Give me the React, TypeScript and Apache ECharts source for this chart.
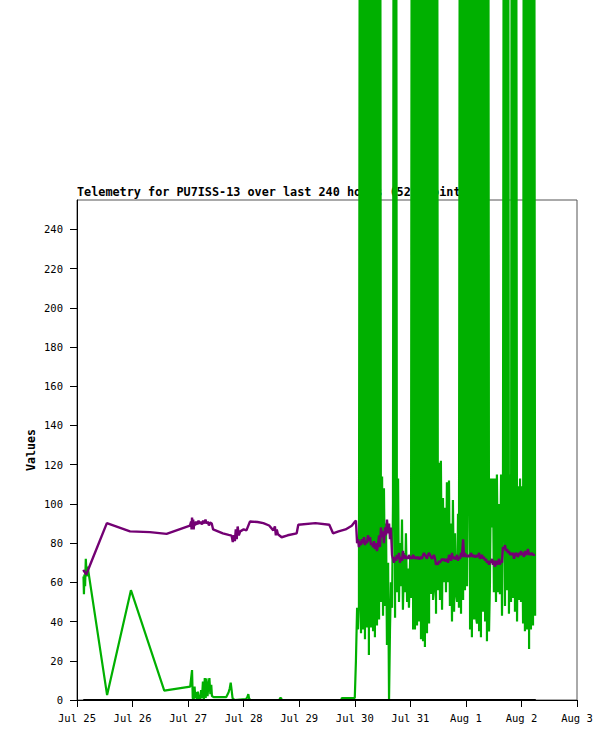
import React, { useEffect, useRef } from "react";
import * as echarts from "echarts";

const TITLE = "Telemetry for PU7ISS-13 over last 240 hours (525 points)";
const Y_NAME = "Values";
const DAY_LABELS = ["Jul 25", "Jul 26", "Jul 27", "Jul 28", "Jul 29", "Jul 30", "Jul 31", "Aug 1", "Aug 2", "Aug 3"];
const Y_TICKS = [0, 20, 40, 60, 80, 100, 120, 140, 160, 180, 200, 220, 240];
const X_MIN = 0;
const X_MAX = 216;
const X_STEP = 24;
const Y_MAX = 255;

// hours since Jul 25 00:00, value
const greenEarly: [number, number][] = [
  [2.8, 63], [3.0, 54], [3.2, 64], [3.5, 58], [3.8, 72], [4.2, 63], [4.6, 68],
  [13.0, 2.5], [23.3, 56], [37.7, 4.8], [48.9, 6.8],
  [49.7, 15.3], [50.0, 1], [50.4, 0], [50.8, 6.8], [51.1, 1], [51.5, 4], [51.8, 0],
  [52.2, 4.3], [52.6, 1], [53.2, 0], [53.6, 5], [54.0, 1], [54.4, 9.4], [54.8, 0],
  [55.2, 11.2], [55.6, 1], [55.9, 11], [56.4, 2], [56.8, 8], [57.2, 11.2], [57.6, 3],
  [58.0, 7.7], [58.3, 2], [59.0, 1.5], [62, 1.5], [64.5, 1.5], [65.5, 4], [66.0, 6],
  [66.4, 8.8], [66.8, 5], [67.2, 1], [68, 0], [73, 0.5], [73.6, 1.5], [74.0, 3],
  [74.4, 0.5], [75, 0], [87.5, 0], [87.7, 1], [88.2, 1], [88.4, 0], [114.2, 0],
  [114.4, 1], [120.0, 1],
];

const TOP = 600;
const greenDense: [number, number][] = [
  [120.5, 20], [121.0, 47], [121.4, 36], [121.8, 48], [122.3, TOP], [122.7, 34], [123.1, TOP],
  [123.6, 36], [124.0, TOP], [124.4, 31], [124.8, TOP], [125.3, 37], [125.7, TOP], [126.1, 23],
  [126.6, TOP], [127.0, 37], [127.4, TOP], [127.9, 35], [128.3, TOP], [128.7, 32], [129.1, TOP],
  [129.6, 38], [130.0, TOP], [130.5, 41], [130.9, TOP], [131.3, 50], [131.8, 114], [132.2, 43],
  [132.6, 108], [133.1, 48], [133.5, 90], [133.9, 28], [134.4, 70], [134.8, 0], [135.2, 35],
  [135.6, 60], [136.1, 47], [136.5, 100], [136.9, TOP], [137.4, 42], [137.8, TOP], [138.2, 55],
  [138.7, 113], [139.1, 50], [139.5, 80], [140.0, 58], [140.4, 92], [140.8, 46], [141.3, 75],
  [141.7, 55], [142.1, 85], [142.6, 50], [143.0, 67], [143.4, 47], [143.9, 72], [144.3, 52],
  [144.7, TOP], [145.2, 36], [145.6, TOP], [146.0, 36], [146.4, TOP], [146.9, 38], [147.3, TOP],
  [147.7, 40], [148.2, TOP], [148.6, 31], [149.0, TOP], [149.5, 30], [149.9, TOP], [150.3, 27],
  [150.8, TOP], [151.2, 34], [151.6, TOP], [152.1, 39], [152.5, TOP], [152.9, 54], [153.4, TOP],
  [153.8, 51], [154.2, 56], [154.7, TOP], [155.1, 44], [155.5, TOP], [155.9, 56], [156.4, 121],
  [156.8, 51], [157.2, 122], [157.7, 46], [158.1, 103], [158.5, 60], [159.0, 98], [159.4, 55],
  [159.8, 111], [160.3, 60], [160.7, 112], [161.1, 48], [161.6, 90], [162.0, 40], [162.4, 102],
  [162.9, 45], [163.3, 85], [163.7, 55], [164.2, 50], [164.6, 95], [165.0, 47], [165.5, TOP],
  [165.9, 44], [166.3, TOP], [166.8, 51], [167.2, TOP], [167.6, 56], [168.0, TOP], [168.5, 58],
  [168.9, 107], [169.3, TOP], [169.8, 36], [170.2, TOP], [170.6, 32], [171.1, TOP], [171.5, 41],
  [171.9, TOP], [172.4, 42], [172.8, 39], [173.2, TOP], [173.7, 35], [174.1, TOP], [174.5, 32],
  [175.0, TOP], [175.4, 45], [175.8, TOP], [176.3, 40], [176.7, TOP], [177.1, 30], [177.6, TOP],
  [178.0, 35], [178.4, 60], [178.8, 113], [179.3, 88], [179.7, 113], [180.1, 55], [180.6, 113],
  [181.0, 50], [181.4, 115], [181.9, 55], [182.3, 100], [182.7, 54], [183.2, 115], [183.6, 43],
  [184.0, 90], [184.5, TOP], [184.9, 48], [185.3, TOP], [185.8, 56], [186.2, TOP], [186.6, 44],
  [187.1, 115], [187.5, 50], [187.9, TOP], [188.4, 52], [188.8, TOP], [189.2, 45], [189.6, TOP],
  [190.1, 40], [190.5, 109], [190.9, 51], [191.4, 113], [191.8, 50], [192.2, 109], [192.7, 39],
  [193.1, TOP], [193.5, 35], [194.0, TOP], [194.4, 36], [194.8, TOP], [195.3, 26], [195.7, TOP],
  [196.1, 36], [196.6, TOP], [197.0, 38], [197.4, TOP], [197.9, 43],
];

const purpleEarly: [number, number][] = [
  [2.7, 66.4], [4.0, 64], [12.9, 90.2], [22.9, 86], [31.5, 85.6], [38.7, 84.7], [48.8, 88.9],
  [49.3, 91], [49.5, 87], [49.7, 93], [49.9, 88], [50.2, 92], [50.4, 87], [50.7, 91], [51.0, 89],
  [51.5, 91], [52, 89.5], [52.5, 91.5], [53, 90], [53.5, 91], [54, 89.5], [54.5, 91.5], [55, 90],
  [55.5, 92], [56, 90], [56.5, 91], [57, 89], [57.5, 90.5], [58.2, 90], [58.8, 87], [63, 85],
  [65.5, 84.2], [66.8, 83.8], [67.3, 80.5], [67.8, 84], [68.2, 81], [68.6, 87], [69.0, 82],
  [69.4, 88.5], [69.9, 84], [70.5, 86], [72.0, 87], [73.2, 86.5], [74.7, 91], [78, 90.8],
  [80.5, 90.2], [83, 89], [84.8, 86.5], [85.5, 88.5], [85.9, 84], [86.3, 87], [86.8, 84.5],
  [88.4, 83], [91, 84], [94.9, 85], [95.6, 89.4], [103, 90.2], [109, 89.4], [110.6, 85],
  [113, 86], [116, 87], [118.7, 88.9], [120.1, 91], [120.5, 91.5],
];

const purpleDense: [number, number][] = [
  [121.0, 80], [121.4, 82], [121.8, 78], [122.3, 81], [122.7, 79], [123.1, 82], [123.6, 80],
  [124.0, 83], [124.4, 79], [124.8, 81], [125.3, 80], [125.7, 84], [126.1, 81], [126.6, 83],
  [127.0, 79], [127.4, 80], [127.9, 78], [128.3, 81], [128.7, 77], [129.1, 80], [129.6, 76],
  [130.0, 79], [130.5, 84], [130.9, 78], [131.3, 88], [131.8, 83], [132.2, 86], [132.6, 80],
  [133.1, 88], [133.5, 84], [133.9, 92], [134.4, 85], [134.8, 90], [135.2, 82], [135.6, 88],
  [136.1, 74], [136.5, 72], [136.9, 70], [137.4, 73], [137.8, 71], [138.2, 74], [138.7, 72],
  [139.1, 75], [139.5, 70], [140.0, 73], [140.4, 71], [140.8, 76], [141.3, 72], [141.7, 74],
  [142.1, 72], [142.6, 73], [143.0, 72], [143.4, 74], [143.9, 72], [144.3, 73], [144.7, 72],
  [145.2, 74], [145.6, 73], [146.0, 72], [146.4, 73], [146.9, 72], [147.3, 73], [147.7, 72],
  [148.2, 72], [148.6, 73], [149.0, 72], [149.5, 74], [149.9, 75], [150.3, 74], [150.8, 73],
  [151.2, 72], [151.6, 74], [152.1, 75], [152.5, 74], [152.9, 73], [153.4, 72], [153.8, 73],
  [154.2, 74], [154.7, 72], [155.1, 69], [155.5, 70], [155.9, 69], [156.4, 71], [156.8, 70],
  [157.2, 71], [157.7, 72], [158.1, 71], [158.5, 72], [159.0, 71], [159.4, 71], [159.8, 72],
  [160.3, 70], [160.7, 74], [161.1, 73], [161.6, 71], [162.0, 75], [162.4, 72], [162.9, 73],
  [163.3, 72], [163.7, 72], [164.2, 74], [164.6, 71], [165.0, 73], [165.5, 72], [165.9, 75],
  [166.3, 73], [166.8, 82], [167.2, 73], [167.6, 75], [168.0, 73], [168.5, 74], [168.9, 73],
  [169.3, 74], [169.8, 73], [170.2, 75], [170.6, 74], [171.1, 73], [171.5, 74], [171.9, 73],
  [172.4, 73], [172.8, 74], [173.2, 73], [173.7, 75], [174.1, 72], [174.5, 73], [175.0, 74],
  [175.4, 72], [175.8, 73], [176.3, 71], [176.7, 72], [177.1, 70], [177.6, 71], [178.0, 69],
  [178.4, 71], [178.8, 70], [179.3, 72], [179.7, 69], [180.1, 71], [180.6, 68], [181.0, 71],
  [181.4, 69], [181.9, 70], [182.3, 72], [182.7, 69], [183.2, 71], [183.6, 70], [184.0, 78],
  [184.5, 77], [184.9, 79], [185.3, 76], [185.8, 77], [186.2, 75], [186.6, 76], [187.1, 74],
  [187.5, 75], [187.9, 74], [188.4, 75], [188.8, 72], [189.2, 74], [189.6, 75], [190.1, 74],
  [190.5, 73], [190.9, 75], [191.4, 74], [191.8, 76], [192.2, 74], [192.7, 75], [193.1, 73],
  [193.5, 76], [194.0, 74], [194.4, 75], [194.8, 77], [195.3, 74], [195.7, 75], [196.1, 74],
  [196.6, 75], [197.0, 74], [197.4, 74], [197.9, 74],
];

const blackLine: [number, number][] = [[2.7, 0], [198.2, 0]];

const FONT = "'DejaVu Sans Mono', monospace";

export default function App() {
  const ref = useRef<HTMLDivElement>(null);
  useEffect(() => {
    if (!ref.current) return;
    const chart = echarts.init(ref.current, undefined, { renderer: "svg" });
    chart.setOption({
      animation: false,
      backgroundColor: "#ffffff",
      title: {
        text: TITLE,
        left: 77,
        top: 186,
        padding: 0,
        z: 0,
        textStyle: { fontFamily: FONT, fontSize: 11.8, fontWeight: "bold", color: "#000" },
      },
      grid: {
        left: 77,
        top: 200,
        width: 500,
        height: 500,
        show: true,
        borderColor: "#555",
        borderWidth: 1,
        backgroundColor: "transparent",
      },
      xAxis: {
        type: "value",
        min: X_MIN,
        max: X_MAX,
        interval: X_STEP,
        axisLine: { lineStyle: { color: "#000", width: 1 } },
        axisTick: { length: 7, lineStyle: { color: "#000" } },
        axisLabel: {
          margin: 12,
          fontFamily: FONT,
          fontSize: 10.5,
          color: "#000",
          formatter: (v: number) => DAY_LABELS[Math.round(v / X_STEP)] ?? "",
        },
        splitLine: { show: false },
      },
      yAxis: {
        type: "value",
        min: 0,
        max: Y_MAX,
        interval: 20,
        name: Y_NAME,
        nameLocation: "middle",
        nameGap: 40,
        nameRotate: 90,
        nameMoveOverlap: false,
        nameTextStyle: { fontFamily: FONT, fontSize: 11.6, fontWeight: "bold", color: "#000" },
        axisLine: { show: true, lineStyle: { color: "#000", width: 1 } },
        axisTick: { show: true, length: 7, lineStyle: { color: "#000" }, customValues: Y_TICKS },
        axisLabel: {
          margin: 14,
          fontFamily: FONT,
          fontSize: 10.5,
          color: "#000",
          customValues: Y_TICKS,
        },
        splitLine: { show: false },
      },
      series: [
        {
          type: "line",
          data: [...greenEarly, ...greenDense],
          showSymbol: false,
          clip: false,
          z: 3,
          lineStyle: { color: "#00b000", width: 2.2 },
          itemStyle: { color: "#00b000" },
        },
        {
          type: "line",
          data: [...purpleEarly, ...purpleDense],
          showSymbol: false,
          clip: false,
          z: 4,
          lineStyle: { color: "#730073", width: 2.4 },
          itemStyle: { color: "#730073" },
        },
        {
          type: "line",
          data: blackLine,
          showSymbol: false,
          clip: false,
          z: 5,
          lineStyle: { color: "#000", width: 2 },
          itemStyle: { color: "#000" },
        },
      ],
    });
    return () => chart.dispose();
  }, []);
  return (
    <div
      ref={ref}
      style={{ position: "absolute", left: 0, top: 0, width: 615, height: 741 }}
    />
  );
}
